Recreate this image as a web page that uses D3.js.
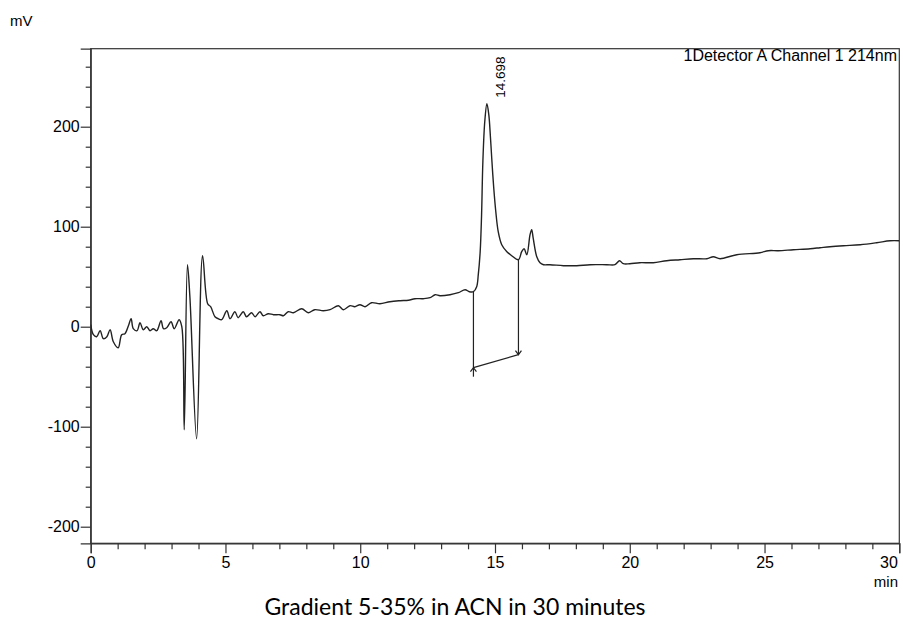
<!DOCTYPE html>
<html>
<head>
<meta charset="utf-8">
<script src="https://cdn.jsdelivr.net/npm/d3@7"></script>
<style>
  html, body { margin: 0; padding: 0; background: #fff; }
  svg { display: block; }
  .tick text { font-family: "Liberation Sans", Arial, sans-serif; font-size: 16px; fill: #000; }
</style>
</head>
<body>
<svg id="chart" width="903" height="623"></svg>
<script>
// ---- data ----
const times = [0,0.1,0.22,0.35,0.47,0.6,0.72,0.84,1.02,1.15,1.27,1.4,1.5,1.58,1.72,1.83,1.95,2.08,2.2,2.32,2.45,2.61,2.7,2.82,2.98,3.1,3.28,3.38,3.47,3.59,3.68,3.93,4.15,4.34,4.45,4.61,4.73,4.86,5.05,5.17,5.35,5.47,5.66,5.78,5.97,6.1,6.28,6.4,6.59,6.78,7.02,7.15,7.33,7.52,7.83,8.07,8.31,8.63,8.88,9.19,9.37,9.62,9.8,9.99,10.18,10.42,10.73,11.1,11.48,11.79,12.03,12.34,12.59,12.78,12.96,13.33,13.64,13.89,14.05,14.2,14.32,14.38,14.45,14.5,14.55,14.62,14.7,14.77,14.83,14.88,14.95,15.03,15.12,15.25,15.44,15.62,15.87,15.99,16.08,16.18,16.3,16.36,16.42,16.55,16.67,16.8,17.04,17.54,18.03,18.53,19.15,19.45,19.62,19.76,20.0,20.37,20.87,21.37,21.86,22.36,22.86,23.1,23.35,23.97,24.83,25.14,25.51,26.07,26.69,27.06,27.43,27.93,28.55,29.16,29.66,30];
const mv = [2,-8,-10,-4,-12,-10,-3,-15,-21,-8,-7,1,8,-2,-4,4,-3,0,-4,-2,-4,6,-2,-1,5,-2,7,0,-103,62,30,-112,71,23,20,10,8,7,16,8,15,9,15,10,14,10,15,11,13,12,12,11,15,14,18,14,17,16,17,21,17,21,20,22,20,24,23,25,26,26.5,28,28,29,32,31,32,34,37,35,35,40,52,75,110,165,205,223,212,190,168,140,115,95,82,75,71,67,75,78,72,92,97,88,70,64,62,62,61,61,62,62,62,66,63,63,64,64,66,67,68,68,70,68,72,74,76,76,77,78,79,80,81,82,84,86,86];

const xMajorTicks = [0, 5, 10, 15, 20, 25, 30];
const yMajorTicks = [-200, -100, 0, 100, 200];
const peakTime = 14.698;
const peakLabel = "14.698";
const peakValue = 223;
// integration baseline: start and end [time, mV], drop lines
const baseStart = [14.2, -41];
const baseEnd = [15.87, -28];
const dropStartTop = 35, dropStartBottom = -50;
const dropEndTop = 67;

const legendText = "1Detector A Channel 1 214nm";
const yUnit = "mV";
const xUnit = "min";
const caption = "Gradient 5-35% in ACN in 30 minutes";

// ---- layout ----
const svg = d3.select("#chart");
const L = 90.7, R = 899.3, T = 48.7, B = 543.3;

const x = d3.scaleLinear().domain([0, 30]).range([L, R]);
const y = d3.scaleLinear().domain([-216.6, 278]).range([B, T]);

// frame (top & right)
svg.append("rect")
  .attr("x", L).attr("y", T).attr("width", R - L).attr("height", B - T)
  .attr("fill", "none").attr("stroke", "#333").attr("stroke-width", 1.2);

// clip
svg.append("clipPath").attr("id", "clip").append("rect")
  .attr("x", L).attr("y", T).attr("width", R - L).attr("height", B - T);

// y axis: minor then major
const yMinor = d3.range(-200, 279, 20).filter(v => v % 100 !== 0);
svg.append("g").attr("transform", `translate(${L},0)`)
  .call(d3.axisLeft(y).tickValues(yMinor).tickSize(5).tickFormat(""))
  .call(g => g.select(".domain").remove())
  .call(g => g.selectAll("line").attr("stroke", "#333").attr("stroke-width", 1.2));
svg.append("g").attr("transform", `translate(${L},0)`)
  .call(d3.axisLeft(y).tickValues(yMajorTicks).tickSize(10).tickPadding(1).tickFormat(d => String(d)))
  .call(g => g.select(".domain").attr("stroke", "#333").attr("stroke-width", 1.2))
  .call(g => g.selectAll("line").attr("stroke", "#333").attr("stroke-width", 1.2));

// x axis
const xMinor = d3.range(0, 31, 1).filter(v => v % 5 !== 0);
svg.append("g").attr("transform", `translate(0,${B})`)
  .call(d3.axisBottom(x).tickValues(xMinor).tickSize(6).tickFormat(""))
  .call(g => g.select(".domain").remove())
  .call(g => g.selectAll("line").attr("stroke", "#333").attr("stroke-width", 1.2));
svg.append("g").attr("transform", `translate(0,${B})`)
  .call(d3.axisBottom(x).tickValues(xMajorTicks).tickSize(10).tickPadding(3).tickFormat(d => String(d)))
  .call(g => g.select(".domain").attr("stroke", "#333").attr("stroke-width", 1.2))
  .call(g => g.selectAll("line").attr("stroke", "#333").attr("stroke-width", 1.2))
  .call(g => g.selectAll(".tick text").filter(d => d === 30).attr("text-anchor", "end").attr("dx", -2));

// unit labels
svg.append("text").attr("x", 10).attr("y", 26)
  .attr("font-family", "Liberation Sans, Arial, sans-serif").attr("font-size", 15)
  .text(yUnit);
svg.append("text").attr("x", 898).attr("y", 587).attr("text-anchor", "end")
  .attr("font-family", "Liberation Sans, Arial, sans-serif").attr("font-size", 15)
  .text(xUnit);

// legend
svg.append("text").attr("x", 897).attr("y", 61).attr("text-anchor", "end")
  .attr("font-family", "Liberation Sans, Arial, sans-serif").attr("font-size", 16)
  .text(legendText);

// trace
const data = times.map((t, i) => [t, mv[i]]);
const line = d3.line().x(d => x(d[0])).y(d => y(d[1])).curve(d3.curveCatmullRom.alpha(0.5));
svg.append("path").datum(data)
  .attr("clip-path", "url(#clip)")
  .attr("d", line)
  .attr("fill", "none").attr("stroke", "#222").attr("stroke-width", 1.4)
  .attr("stroke-linejoin", "round");

// baseline markers
const mk = svg.append("g").attr("stroke", "#222").attr("stroke-width", 1.2).attr("fill", "none");
mk.append("line").attr("x1", x(baseStart[0])).attr("x2", x(baseStart[0]))
  .attr("y1", y(dropStartTop)).attr("y2", y(dropStartBottom));
mk.append("line").attr("x1", x(baseEnd[0])).attr("x2", x(baseEnd[0]))
  .attr("y1", y(dropEndTop)).attr("y2", y(baseEnd[1]));
mk.append("line").attr("x1", x(baseStart[0])).attr("y1", y(baseStart[1]))
  .attr("x2", x(baseEnd[0])).attr("y2", y(baseEnd[1]));
// small arrowheads
const ax1 = x(baseEnd[0]), ay1 = y(baseEnd[1]);
mk.append("path").attr("d", `M${ax1-3},${ay1-4}L${ax1},${ay1}L${ax1+3},${ay1-4}`);
const ax0 = x(baseStart[0]), ay0 = y(baseStart[1]);
mk.append("path").attr("d", `M${ax0-3},${ay0+4}L${ax0},${ay0}L${ax0+3},${ay0+4}`);

// peak label
svg.append("text")
  .attr("transform", `translate(${x(peakTime) + 18},${y(peakValue) - 6}) rotate(-90)`)
  .attr("font-family", "Liberation Sans, Arial, sans-serif").attr("font-size", 13.5)
  .text(peakLabel);

// caption
svg.append("text").attr("x", 455).attr("y", 615).attr("text-anchor", "middle")
  .attr("font-family", "Lato, 'Open Sans', sans-serif").attr("font-size", 23)
  .text(caption);
</script>
</body>
</html>
